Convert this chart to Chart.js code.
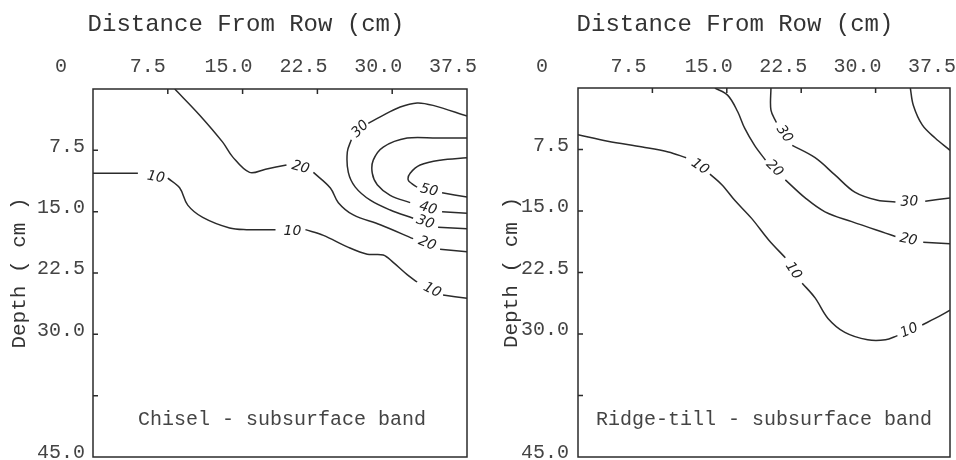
<!DOCTYPE html>
<html>
<head>
<meta charset="utf-8">
<script src="https://cdn.jsdelivr.net/npm/chart.js@4.4.1/dist/chart.umd.min.js"></script>
<style>
  html, body { margin: 0; padding: 0; background: #fff; overflow: hidden; }
  body { width: 956px; height: 460px; position: relative; }
  canvas { position: absolute; top: 0; }
  #chiselChart { left: 7px; }
  #ridgeChart { left: 499px; }
</style>
</head>
<body>
<canvas id="chiselChart" width="470" height="460"></canvas>
<canvas id="ridgeChart" width="457" height="460"></canvas>
<script>
const distanceValues = [0, 7.5, 15, 22.5, 30, 37.5];
const distanceLabels = ["0", "7.5", "15.0", "22.5", "30.0", "37.5"];
const depthValues = [0, 7.5, 15, 22.5, 30, 37.5, 45];
const depthLabels = ["", "7.5", "15.0", "22.5", "30.0", "", "45.0"];

// contour lines as [distance, depth]; a null is the gap where the line label sits
const chisel10 = [[0, 10.3], [4.5, 10.3], null, [7.5, 10.9], [8.7, 12.1], [9.5, 14.2], [11.0, 15.7], [13.7, 17.0], [15.4, 17.2], [18.3, 17.2], null, [21.3, 17.2], [23.1, 17.9], [25.5, 19.3], [27.5, 20.2], [29.1, 20.3], [30.1, 21.2], [31.5, 22.7], [32.5, 23.6], null, [35.1, 25.2], [37.5, 25.6]];
const chisel10Labels = [[6.3, 10.8], [20.0, 17.4], [34.0, 24.6]];
const chisel20 = [[8.2, 0], [10.7, 3.2], [13.0, 6.5], [14.0, 8.3], [15.7, 10.2], [17.3, 9.8], [19.4, 9.3], null, [22.1, 10.2], [23.8, 12.1], [24.6, 13.9], [26.1, 15.4], [28.8, 16.6], [32.1, 18.3], null, [34.8, 19.6], [37.5, 19.9]];
const chisel20Labels = [[20.8, 9.6], [33.5, 18.9]];
const chisel30 = [[37.5, 3.3], [34.1, 2.0], [32.5, 1.7], [30.8, 2.2], [28.8, 3.4], [27.6, 4.2], null, [25.9, 6.2], [25.5, 7.7], [25.6, 10.2], [26.3, 12.0], [27.8, 13.6], [29.8, 14.8], [32.1, 15.8], null, [34.6, 16.9], [37.5, 17.1]];
const chisel30Labels = [[26.8, 4.9], [33.3, 16.3]];
const chisel40 = [[37.5, 6.0], [34.5, 6.0], [31.5, 6.0], [29.1, 7.1], [28.1, 8.7], [28.0, 10.3], [28.5, 11.7], [29.8, 13.0], [31.8, 13.9], null, [35.0, 15.0], [37.5, 15.2]];
const chisel40Labels = [[33.6, 14.6]];
const chisel50 = [[37.5, 8.4], [34.8, 8.7], [32.8, 9.3], [31.8, 10.3], [31.6, 11.1], [32.0, 11.6], [32.5, 12.0], null, [35.0, 12.7], [37.5, 13.2]];
const chisel50Labels = [[33.7, 12.4]];

const ridge10 = [[0, 5.7], [3.0, 6.5], [6.5, 7.2], [9.1, 7.8], [10.9, 8.5], null, [13.3, 10.5], [14.5, 11.8], [15.8, 13.7], [17.5, 15.9], [19.2, 18.5], [20.9, 20.7], null, [22.6, 23.8], [23.9, 25.6], [25.2, 28.1], [26.9, 29.8], [29.2, 30.7], [31.0, 30.7], [32.2, 30.2], null, [34.7, 28.9], [36.0, 28.1], [37.5, 27.1]];
const ridge10Labels = [[12.3, 9.6], [21.7, 22.3], [33.4, 29.6]];
const ridge20 = [[13.8, 0], [15.1, 0.9], [16.1, 2.9], [16.8, 4.9], [17.8, 7.0], [18.9, 8.8], null, [20.9, 11.2], [22.9, 13.4], [24.9, 15.1], [27.6, 16.3], [31.0, 17.7], [32.0, 18.1], null, [34.8, 18.8], [37.5, 19.0]];
const ridge20Labels = [[19.8, 9.8], [33.3, 18.5]];
const ridge30 = [[19.45, 0], [19.45, 2.7], [20.0, 4.2], null, [21.6, 7.0], [23.9, 8.5], [25.9, 10.6], [27.9, 12.7], [30.2, 13.7], [32.0, 13.9], null, [35.0, 13.8], [37.5, 13.4]];
const ridge30Labels = [[20.8, 5.6], [33.4, 13.9]];
const ridge40 = [[33.5, 0], [33.8, 2.1], [34.7, 4.5], [36.0, 6.1], [37.5, 7.6]];

const MONO = "'Liberation Mono', 'DejaVu Sans Mono', monospace";
const TEXT = "#444";
const INK = "#2b2b2b";

const contourPlugin = {
  id: "contour",
  afterDatasetsDraw(chart, args, opts) {
    const { ctx, chartArea: a, scales: { x, y } } = chart;
    ctx.save();
    ctx.strokeStyle = INK;
    ctx.lineWidth = 1.5;
    ctx.strokeRect(a.left, a.top, a.right - a.left, a.bottom - a.top);

    // small ticks pointing into the frame
    ctx.beginPath();
    distanceValues.slice(1, -1).forEach(v => {
      const px = x.getPixelForValue(v);
      ctx.moveTo(px, a.top);
      ctx.lineTo(px, a.top + 5);
    });
    depthValues.slice(1, -1).forEach(v => {
      const py = y.getPixelForValue(v);
      ctx.moveTo(a.left, py);
      ctx.lineTo(a.left + 5, py);
    });
    ctx.stroke();

    // contour values written along the lines
    ctx.font = "italic 14px 'DejaVu Sans'";
    ctx.fillStyle = "#222";
    ctx.textAlign = "center";
    ctx.textBaseline = "middle";
    chart.data.datasets.forEach(ds => {
      const gaps = [];
      ds.data.forEach((p, i) => { if (p.x === null) gaps.push(i); });
      (ds.labelAt || []).forEach((pos, k) => {
        const i = gaps[k];
        const p0 = ds.data[i - 1], p1 = ds.data[i + 1];
        let ang = Math.atan2(
          y.getPixelForValue(p1.y) - y.getPixelForValue(p0.y),
          x.getPixelForValue(p1.x) - x.getPixelForValue(p0.x)
        );
        if (ang > Math.PI / 2) ang -= Math.PI;
        if (ang < -Math.PI / 2) ang += Math.PI;
        ctx.save();
        ctx.translate(x.getPixelForValue(pos[0]), y.getPixelForValue(pos[1]));
        ctx.rotate(ang);
        ctx.fillText(ds.label, 0, 0);
        ctx.restore();
      });
    });

    ctx.font = "20px " + MONO;
    ctx.fillStyle = TEXT;
    ctx.fillText(opts.caption, x.getPixelForValue(opts.captionAt[0]), y.getPixelForValue(opts.captionAt[1]));
    ctx.restore();
  }
};

// keep label overhang from shrinking the plot frame
function noOverhang(s) {
  s.paddingLeft = 0;
  s.paddingRight = 0;
  s.paddingTop = 0;
  s.paddingBottom = 0;
}

function buildChart(id, lines, caption, captionAt, g) {
  new Chart(document.getElementById(id), {
    type: "scatter",
    data: {
      datasets: lines.map(([label, pts, labelAt]) => ({
        label,
        labelAt,
        data: pts.map(p => (p ? { x: p[0], y: p[1] } : { x: null, y: null })),
        showLine: true,
        pointRadius: 0,
        borderColor: INK,
        borderWidth: 1.5,
        tension: 0.35,
        fill: false,
      })),
    },
    options: {
      responsive: false,
      animation: false,
      devicePixelRatio: 1,
      layout: { padding: { left: g.padLeft, right: g.padRight, top: 0, bottom: 3 } },
      plugins: {
        legend: { display: false },
        tooltip: { enabled: false },
        title: {
          display: true,
          text: "Distance From Row (cm)",
          font: { family: MONO, size: 24, weight: "normal" },
          color: "#333",
          padding: { top: 10, bottom: 0 },
        },
        contour: { caption, captionAt },
      },
      scales: {
        x: {
          type: "linear",
          position: "top",
          min: 0,
          max: 37.5,
          afterBuildTicks: s => { s.ticks = distanceValues.map(v => ({ value: v })); },
          afterFit: s => { s.height = g.top - 38.8; noOverhang(s); },
          grid: { display: false, drawTicks: false },
          border: { display: false },
          ticks: {
            autoSkip: false,
            maxRotation: 0,
            align: "start",
            labelOffset: g.xLabelOffset,
            padding: g.xPad,
            color: TEXT,
            font: { family: MONO, size: 20 },
            callback: (v, i) => distanceLabels[i],
          },
        },
        y: {
          type: "linear",
          reverse: true,
          min: 0,
          max: 45,
          afterBuildTicks: s => { s.ticks = depthValues.map(v => ({ value: v })); },
          afterFit: s => { s.width = g.yWidth; noOverhang(s); },
          grid: { display: false, drawTicks: false },
          border: { display: false },
          title: {
            display: true,
            text: "Depth ( cm )",
            font: { family: MONO, size: 21 },
            color: "#333",
            padding: { top: -g.padLeft, bottom: 0 },
          },
          ticks: {
            autoSkip: false,
            labelOffset: -4,
            padding: g.yPad,
            color: TEXT,
            font: { family: MONO, size: 20 },
            callback: (v, i) => depthLabels[i],
          },
        },
      },
    },
    plugins: [contourPlugin],
  });
}

buildChart("chiselChart", [
  ["10", chisel10, chisel10Labels],
  ["20", chisel20, chisel20Labels],
  ["30", chisel30, chisel30Labels],
  ["40", chisel40, chisel40Labels],
  ["50", chisel50, chisel50Labels],
], "Chisel - subsurface band", [18.95, 40.4],
  { padLeft: 18, padRight: 10, top: 89, yWidth: 68, xLabelOffset: -38, xPad: 10, yPad: 8 });

buildChart("ridgeChart", [
  ["10", ridge10, ridge10Labels],
  ["20", ridge20, ridge20Labels],
  ["30", ridge30, ridge30Labels],
  ["40", ridge40, []],
], "Ridge-till - subsurface band", [18.75, 40.4],
  { padLeft: 21, padRight: 6, top: 88, yWidth: 58, xLabelOffset: -42, xPad: 9, yPad: 9 });
</script>
</body>
</html>
